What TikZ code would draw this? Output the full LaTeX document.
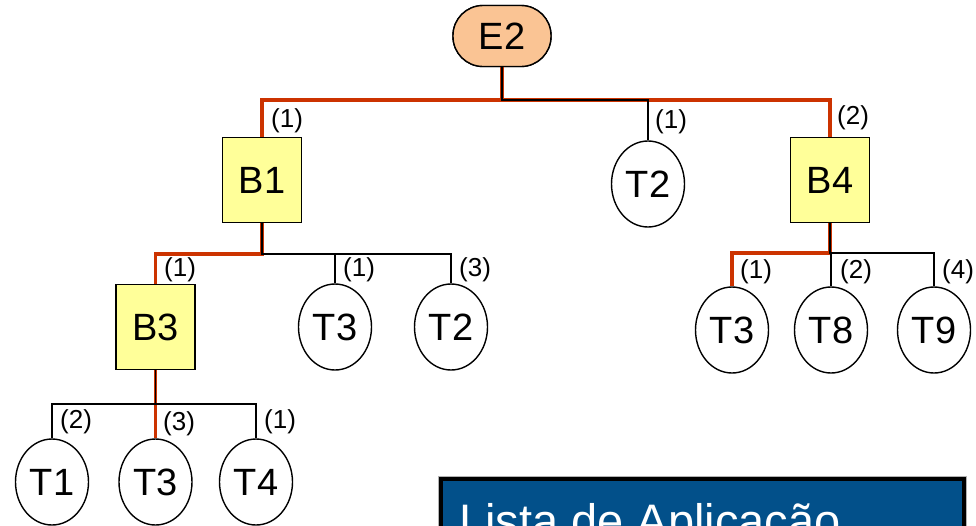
\documentclass[tikz,border=0pt]{standalone}
\usepackage{fontspec}
\setmainfont{Liberation Sans}
\usetikzlibrary{shapes.geometric}
\definecolor{peach}{RGB}{250,196,148}
\definecolor{paleyellow}{RGB}{255,255,153}
\definecolor{pathred}{RGB}{204,51,0}
\definecolor{boxblue}{RGB}{2,80,138}
\tikzset{
  nodetext/.style={font=\fontsize{38}{38}\selectfont, text=black, inner sep=0pt},
  rootnode/.style={nodetext, draw=black, line width=1.4pt, fill=peach, rounded corners=30pt, minimum width=98pt, minimum height=61pt},
  blocknode/.style={nodetext, draw=black, line width=1.4pt, fill=paleyellow, minimum width=79pt, minimum height=85pt},
  leafnode/.style={nodetext, ellipse, draw=black, line width=1.4pt, fill=white, minimum width=73pt, minimum height=86pt},
  blackedge/.style={draw=black, line width=1.8pt},
  rededge/.style={draw=pathred, line width=3.8pt},
  wlabel/.style={font=\fontsize{26}{26}\selectfont, anchor=west, inner sep=0pt}
}
\begin{document}
\begin{tikzpicture}[x=1pt,y=-1pt]
\useasboundingbox (0,0) rectangle (976,525);
\clip (0,0) rectangle (976,525);

% horizontal levels
\coordinate (h1) at (0,100);
\coordinate (h2) at (0,254);
\coordinate (h3) at (0,253);
\coordinate (h4) at (0,404);

% nodes
\node[rootnode] (E2) at (502,36) {E2};
\node[blocknode] (B1) at (262,180) {B1};
\node[leafnode] (T2a) at (648,184) {T2};
\node[blocknode] (B4) at (830,180) {B4};
\node[blocknode] (B3) at (155.5,327) {B3};
\node[leafnode] (T3a) at (335,327) {T3};
\node[leafnode] (T2b) at (451,327) {T2};
\node[leafnode] (T3b) at (732,330) {T3};
\node[leafnode] (T8) at (831,330) {T8};
\node[leafnode] (T9) at (934,330) {T9};
\node[leafnode] (T1) at (52,482) {T1};
\node[leafnode] (T3c) at (155.5,482) {T3};
\node[leafnode] (T4) at (256,482) {T4};

% red path
\draw[rededge] (E2.south) -- (E2.south |- h1) -- (B1.north |- h1) -- (B1.north);
\draw[rededge] (E2.south |- h1) -- (B4.north |- h1) -- (B4.north);
\draw[rededge] (B1.south) -- (B1.south |- h2) -- (B3.north |- h2) -- (B3.north);
\draw[rededge] (B3.south) -- (T3c.north);
\draw[rededge] (B4.south) -- (B4.south |- h3) -- (T3b.north |- h3) -- (T3b.north);

% black tree edges
\begin{scope}[shift={(1,-1)}]
\draw[blackedge] (E2.south) -- (E2.south |- h1) -- (T2a.north |- h1) -- (T2a.north);
\draw[blackedge] (B1.south) -- (B1.south |- h2) -- (T2b.north |- h2) -- (T2b.north);
\draw[blackedge] (T3a.north |- h2) -- (T3a.north);
\draw[blackedge] (B3.south) -- (B3.south |- h4);
\draw[blackedge] (T1.north) -- (T1.north |- h4) -- (T4.north |- h4) -- (T4.north);
\draw[blackedge] (B4.south) -- (B4.south |- h3) -- (T9.north |- h3) -- (T9.north);
\draw[blackedge] (T8.north |- h3) -- (T8.north);
\end{scope}
% redraw root on top of edges
\node[rootnode] at (E2) {E2};

% labels
\node[wlabel] (lB1) at (271,121) {(1)};
\node[wlabel] (lT2a) at (655,122) {(1)};
\node[wlabel] (lB4) at (837,118) {(2)};
\node[wlabel] (lB3) at (164,270) {(1)};
\node[wlabel] (lT3a) at (343,270) {(1)};
\node[wlabel] (lT2b) at (459,270) {(3)};
\node[wlabel] (lT3b) at (740,272) {(1)};
\node[wlabel] (lT8) at (840,272) {(2)};
\node[wlabel] (lT9) at (942,272) {(4)};
\node[wlabel] (lT1) at (60,422) {(2)};
\node[wlabel] (lT3c) at (163,424) {(3)};
\node[wlabel] (lT4) at (264,422) {(1)};

% blue box
\draw[draw=gray!60, line width=0.8pt] (438.5,476.5) rectangle (966,560);
\draw[draw=black, fill=boxblue, line width=4pt] (441,479) rectangle (964,560);
\node[anchor=base west, inner sep=0pt, text=white, font=\fontsize{47}{47}\selectfont] (title) at (459,537) {Lista de Aplicação};
\end{tikzpicture}
\end{document}
